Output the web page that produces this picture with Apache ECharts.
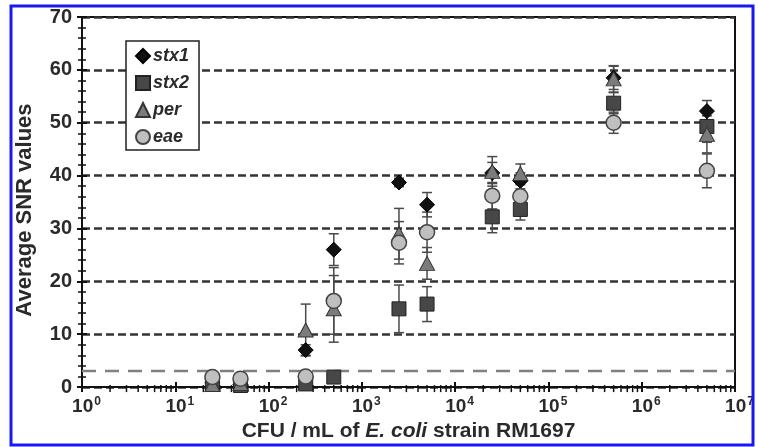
<!DOCTYPE html>
<html>
<head>
<meta charset="utf-8">
<script src="https://cdn.jsdelivr.net/npm/echarts@6/dist/echarts.min.js"></script>
<style>
html,body{margin:0;padding:0;background:#fff;}
#chart{width:758px;height:447px;}
</style>
</head>
<body>
<div id="chart"></div>
<script>
// CFU / mL concentrations
const xValues = [25, 50, 250, 500, 2500, 5000, 25000, 50000, 500000, 5000000];
// Average SNR values per gene target
const stx1 = [0.8, 0.5, 7.0, 26.0, 38.7, 34.5, 40.5, 39.0, 58.5, 52.2];
const stx1Err = [0, 0, 1.0, 3.0, 0.8, 2.3, 2.0, 1.5, 2.2, 2.0];
const stx2 = [0.5, 0.3, 0.6, 1.9, 14.8, 15.7, 32.2, 33.6, 53.7, 49.3];
const stx2Err = [0, 0, 0, 0, 4.5, 3.3, 3.0, 2.0, 2.0, 3.0];
const per = [0.5, 0.7, 10.8, 14.8, 29.0, 23.4, 40.8, 40.4, 58.3, 47.8];
const perErr = [0, 0, 4.9, 6.3, 4.8, 3.0, 2.8, 1.8, 2.5, 3.5];
const eae = [1.9, 1.6, 2.0, 16.3, 27.3, 29.3, 36.2, 36.1, 50.0, 40.9];
const eaeErr = [0, 0, 0, 6.3, 4.0, 3.8, 2.5, 2.2, 2.0, 3.2];
// detection threshold
const threshold = 3;
// x-axis decades and minor tick multipliers
const decades = [1, 10, 100, 1000, 10000, 100000, 1000000];
const minorMultipliers = [2, 3, 4, 5, 6, 7, 8, 9];

const minorTickValues = [];
decades.forEach(d => minorMultipliers.forEach(m => minorTickValues.push([d * m, 0])));

const chart = echarts.init(document.getElementById('chart'), null, {renderer: 'canvas'});

function pts(arr) { return xValues.map((x, i) => [x, arr[i]]); }
function errs(arr, err) {
  const out = [];
  xValues.forEach((x, i) => { if (err[i] > 0) out.push([x, arr[i] - err[i], arr[i] + err[i]]); });
  return out;
}

function errorSeries(name, arr, err) {
  return {
    type: 'custom',
    name: name + ' err',
    z: 2,
    silent: true,
    data: errs(arr, err),
    renderItem: function (params, api) {
      const lo = api.coord([api.value(0), api.value(1)]);
      const hi = api.coord([api.value(0), api.value(2)]);
      const w = 5;
      const style = {stroke: '#4a4a4a', lineWidth: 1.5};
      return {
        type: 'group',
        children: [
          {type: 'line', shape: {x1: lo[0], y1: lo[1], x2: hi[0], y2: hi[1]}, style: style},
          {type: 'line', shape: {x1: lo[0] - w, y1: lo[1], x2: lo[0] + w, y2: lo[1]}, style: style},
          {type: 'line', shape: {x1: hi[0] - w, y1: hi[1], x2: hi[0] + w, y2: hi[1]}, style: style}
        ]
      };
    }
  };
}

const labelColor = '#2a2a2a';

const option = {
  backgroundColor: '#fff',
  animation: false,
  textStyle: {fontFamily: 'Liberation Sans, Arial, sans-serif'},
  graphic: [{
    type: 'rect',
    shape: {x: 11, y: 6, width: 742, height: 439},
    style: {fill: 'none', stroke: '#1818f0', lineWidth: 3},
    z: 100
  }],
  grid: {left: 82, right: 23, top: 17, bottom: 56, show: true, borderColor: '#111', borderWidth: 2},
  legend: {
    orient: 'vertical',
    left: 126,
    top: 41,
    padding: [6, 10, 4, 9],
    itemWidth: 14,
    itemHeight: 14,
    itemGap: 9,
    textStyle: {fontSize: 18, fontWeight: 'bold', fontStyle: 'italic', color: labelColor, padding: [0, 0, 0, -2]},
    borderColor: '#222',
    borderWidth: 1.5,
    backgroundColor: '#fff',
    data: ['stx1', 'stx2', 'per', 'eae']
  },
  xAxis: [{
    type: 'log',
    logBase: 10,
    min: 1,
    max: 10000000,
    name: '{n|CFU / mL of }{i|E. coli}{n| strain RM1697}',
    nameLocation: 'middle',
    nameGap: 27,
    nameTextStyle: {
      rich: {
        n: {fontSize: 21, fontWeight: 'bold', color: labelColor},
        i: {fontSize: 21, fontWeight: 'bold', fontStyle: 'italic', color: labelColor}
      }
    },
    axisLine: {show: true, lineStyle: {color: '#111', width: 2}},
    axisTick: {show: true, length: 5, lineStyle: {color: '#111', width: 2}},
    splitLine: {show: false},
    axisLabel: {
      margin: 9,
      padding: [0, 0, 0, 9],
      formatter: function (v) { return '{b|10}{s|' + Math.round(Math.log10(v)) + '}'; },
      rich: {
        b: {fontSize: 19, fontWeight: 'bold', color: labelColor},
        s: {fontSize: 12, fontWeight: 'bold', color: labelColor, padding: [0, 0, 9, 1]}
      }
    }
  }, {
    type: 'log',
    logBase: 10,
    min: 1,
    max: 10000000,
    position: 'bottom',
    axisLine: {show: false},
    axisTick: {show: true, inside: true, length: 5, lineStyle: {color: '#111', width: 2}},
    axisLabel: {show: false},
    splitLine: {show: false}
  }],
  yAxis: [{
    type: 'value',
    min: 0,
    max: 70,
    interval: 10,
    name: 'Average SNR values',
    nameLocation: 'middle',
    nameGap: 46,
    nameTextStyle: {fontSize: 22, fontWeight: 'bold', color: labelColor, padding: [0, 16, 0, 0]},
    axisLine: {show: true, lineStyle: {color: '#111', width: 2}},
    axisTick: {show: true, length: 5, lineStyle: {color: '#111', width: 2}},
    minorTick: {show: true, splitNumber: 5, length: 4, lineStyle: {color: '#111', width: 1.5}},
    axisLabel: {fontSize: 20, fontWeight: 'bold', color: labelColor, margin: 10},
    splitLine: {show: true, lineStyle: {color: '#333', width: 2.5, type: [8, 4]}}
  }, {
    type: 'value',
    min: 0,
    max: 70,
    interval: 10,
    position: 'left',
    axisLine: {show: false},
    axisTick: {show: true, inside: true, length: 5, lineStyle: {color: '#111', width: 2}},
    minorTick: {show: true, splitNumber: 5, length: 4, lineStyle: {color: '#111', width: 1.5}},
    axisLabel: {show: false},
    splitLine: {show: false}
  }],
  series: [
    {
      type: 'custom',
      name: 'minor ticks',
      silent: true,
      z: 3,
      data: minorTickValues,
      renderItem: function (params, api) {
        const p = api.coord([api.value(0), api.value(1)]);
        return {type: 'line', shape: {x1: p[0], y1: p[1] - 2, x2: p[0], y2: p[1] + 5}, style: {stroke: '#111', lineWidth: 1.5}};
      }
    },
    {
      type: 'line',
      name: 'threshold',
      silent: true,
      symbol: 'none',
      data: [],
      markLine: {
        silent: true,
        symbol: 'none',
        label: {show: false},
        lineStyle: {color: '#808080', width: 2.4, type: [14, 9]},
        data: [{yAxis: threshold}]
      }
    },
    errorSeries('stx1', stx1, stx1Err),
    errorSeries('stx2', stx2, stx2Err),
    errorSeries('per', per, perErr),
    errorSeries('eae', eae, eaeErr),
    {
      type: 'scatter', name: 'stx1', z: 5, data: pts(stx1),
      symbol: 'diamond', symbolSize: [15, 15],
      itemStyle: {color: '#111', borderColor: '#000', borderWidth: 1, opacity: 1}
    },
    {
      type: 'scatter', name: 'stx2', z: 6, data: pts(stx2),
      symbol: 'rect', symbolSize: 14,
      itemStyle: {color: '#474747', borderColor: '#222', borderWidth: 1, opacity: 1}
    },
    {
      type: 'scatter', name: 'per', z: 7, data: pts(per),
      symbol: 'triangle', symbolSize: [15, 14],
      itemStyle: {color: '#7b7b7b', borderColor: '#333', borderWidth: 1, opacity: 1}
    },
    {
      type: 'scatter', name: 'eae', z: 8, data: pts(eae),
      symbol: 'circle', symbolSize: 15,
      itemStyle: {color: '#bfbfbf', borderColor: '#444', borderWidth: 1.5, opacity: 1}
    }
  ]
};
chart.setOption(option);
</script>
</body>
</html>
